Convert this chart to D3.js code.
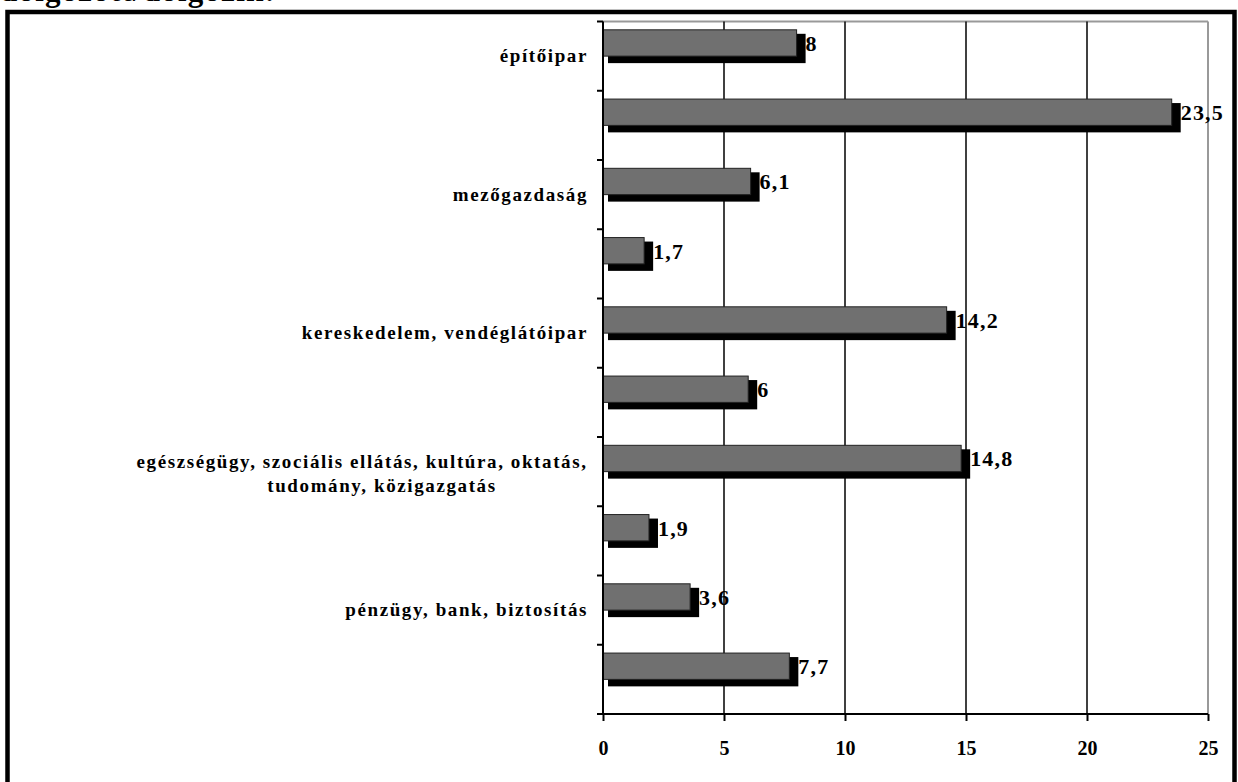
<!DOCTYPE html>
<html><head><meta charset="utf-8">
<script src="https://cdn.jsdelivr.net/npm/d3@7"></script>
<style>body{margin:0;background:#fff}svg{display:block}</style>
</head><body>
<script>
const categories = ["építőipar","","mezőgazdaság","","kereskedelem, vendéglátóipar","","egészségügy, szociális ellátás, kultúra, oktatás,|tudomány, közigazgatás","","pénzügy, bank, biztosítás",""];
const values = [8, 23.5, 6.1, 1.7, 14.2, 6, 14.8, 1.9, 3.6, 7.7];
const valueLabels = ["8","23,5","6,1","1,7","14,2","6","14,8","1,9","3,6","7,7"];
const xTicks = [0,5,10,15,20,25];
const titleText = "dolgozott/dolgozik:";

const W = 1238, H = 782;
const svg = d3.select("body").append("svg").attr("width", W).attr("height", H);
const serif = "Times New Roman, Liberation Serif, Tinos, serif";

svg.append("text").attr("x", 0).attr("y", 1).attr("font-family", serif)
  .attr("font-weight", "bold").attr("font-size", 31).attr("letter-spacing", 1.2).text(titleText);

svg.append("rect").attr("x", 7.5).attr("y", 12).attr("width", 1227).attr("height", 800)
  .attr("fill", "none").attr("stroke", "#000").attr("stroke-width", 4.5);

const L = 603, R = 1208, T = 21.5, B = 714;
const x = d3.scaleLinear().domain([0, 25]).range([L, R]);
const y = d3.scaleBand().domain(d3.range(categories.length)).range([T, B]);
const bw = y.bandwidth();

svg.append("line").attr("x1", L).attr("x2", R).attr("y1", T).attr("y2", T).attr("stroke", "#999").attr("stroke-width", 2);
svg.append("line").attr("x1", R).attr("x2", R).attr("y1", T).attr("y2", B).attr("stroke", "#999").attr("stroke-width", 2);

svg.append("g").selectAll("line").data(xTicks.filter(d => d > 0 && d < 25)).join("line")
  .attr("x1", d => x(d)).attr("x2", d => x(d)).attr("y1", T).attr("y2", B)
  .attr("stroke", "#000").attr("stroke-width", 1.5);

const g = svg.append("g");
const barTop = i => y(i) + bw * 0.12;
const barH = bw * 0.38;
g.selectAll("rect.sh").data(values).join("rect").attr("class", "sh")
  .attr("x", x(0) + 5).attr("y", (d, i) => barTop(i) + 4)
  .attr("width", d => x(d) - x(0) + 4).attr("height", barH + 3).attr("fill", "#000");
g.selectAll("rect.bar").data(values).join("rect").attr("class", "bar")
  .attr("x", x(0)).attr("y", (d, i) => barTop(i))
  .attr("width", d => x(d) - x(0)).attr("height", barH)
  .attr("fill", "#707070").attr("stroke", "#222").attr("stroke-width", 1);
g.selectAll("text.v").data(values).join("text").attr("class", "v")
  .attr("x", d => x(d) + 9).attr("y", (d, i) => barTop(i) + barH / 2 + 8)
  .attr("font-family", serif).attr("font-weight", "bold").attr("font-size", 22).attr("letter-spacing", 1.2)
  .text((d, i) => valueLabels[i]);

const xa = svg.append("g").attr("transform", `translate(0,${B})`)
  .call(d3.axisBottom(x).tickValues(xTicks).tickSize(7).tickPadding(20).tickFormat(d3.format("d")));
xa.select(".domain").attr("stroke", "#000").attr("stroke-width", 2).attr("d", `M${L},0H${R}`);
xa.selectAll(".tick line").attr("stroke", "#000").attr("stroke-width", 2);
xa.selectAll(".tick text").attr("font-family", serif).attr("font-weight", "bold").attr("font-size", 20).attr("fill", "#000");

const ya = svg.append("g").attr("transform", `translate(${L},0)`);
ya.append("line").attr("x1", 0).attr("x2", 0).attr("y1", T).attr("y2", B).attr("stroke", "#000").attr("stroke-width", 2);
ya.selectAll("line.t").data(d3.range(categories.length + 1)).join("line").attr("class", "t")
  .attr("x1", -6).attr("x2", 0).attr("y1", i => T + i * bw).attr("y2", i => T + i * bw)
  .attr("stroke", "#000").attr("stroke-width", 2);

categories.forEach((c, i) => {
  if (!c) return;
  const lines = c.split("|");
  const cy = y(i) + bw / 2;
  const lh = 24;
  const t = svg.append("text").attr("font-family", serif).attr("font-weight", "bold")
    .attr("font-size", 19).attr("letter-spacing", 1.6);
  if (lines.length === 1) {
    t.attr("text-anchor", "end").attr("x", 588).attr("y", cy + 6).text(lines[0]);
  } else {
    t.attr("text-anchor", "middle");
    lines.forEach((l, k) => {
      t.append("tspan").attr("x", 362 + k * 20).attr("y", cy + 8 + (k - (lines.length - 1) / 2) * lh).text(l);
    });
  }
});
</script>
</body></html>
